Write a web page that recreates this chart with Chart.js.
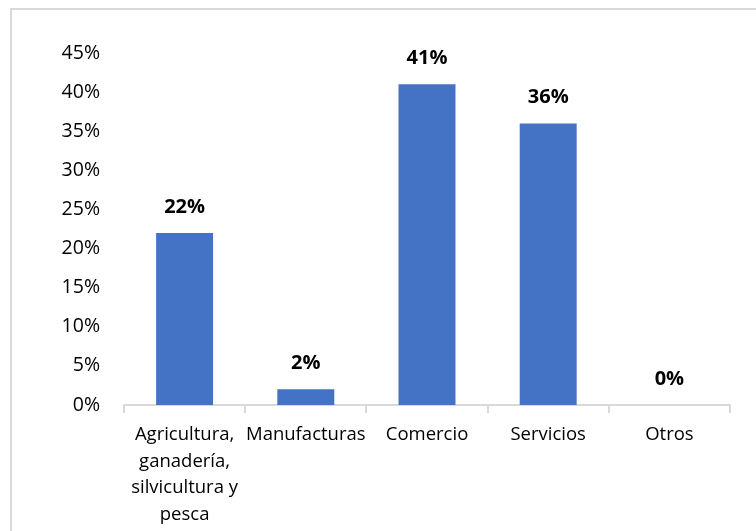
<!DOCTYPE html>
<html lang="es">
<head>
    <meta charset="UTF-8">
    <title>Distribución por sector</title>
    <style>
        html, body {
            margin: 0;
            padding: 0;
            background: #fff;
            overflow: hidden;
        }
        .frame {
            position: absolute;
            left: 10px;
            top: 8px;
            width: 800px;
            height: 600px;
            border: 2px solid #d9d9d9;
            box-sizing: border-box;
        }
        #sectorChart {
            position: absolute;
            left: 0;
            top: 0;
        }
    </style>
    <script src="https://cdn.jsdelivr.net/npm/chart.js"></script>
</head>
<body>
    <div class="frame"></div>
    <canvas id="sectorChart" width="756" height="531"></canvas>
    <script>
        // sectores (la primera etiqueta va en varias líneas)
        const sectores = [
            ['Agricultura,', 'ganadería,', 'silvicultura y', 'pesca'],
            'Manufacturas',
            'Comercio',
            'Servicios',
            'Otros'
        ];
        // porcentaje de cada sector
        const porcentajes = [22, 2, 41, 36, 0];
        // marcas del eje Y
        const marcasY = [0, 5, 10, 15, 20, 25, 30, 35, 40, 45];

        const fuente = "'Open Sans', sans-serif";

        // etiquetas en negrita sobre cada barra
        const etiquetasPlugin = {
            id: 'etiquetas',
            afterDatasetsDraw(chart) {
                const ctx = chart.ctx;
                const meta = chart.getDatasetMeta(0);
                ctx.save();
                ctx.font = 'bold 20px ' + fuente;
                ctx.fillStyle = '#000';
                ctx.textAlign = 'center';
                ctx.textBaseline = 'alphabetic';
                meta.data.forEach((bar, i) => {
                    ctx.fillText(porcentajes[i] + '%', bar.x, bar.y - 20);
                });
                ctx.restore();
            }
        };

        new Chart(document.getElementById('sectorChart'), {
            type: 'bar',
            data: {
                labels: sectores,
                datasets: [{
                    data: porcentajes,
                    backgroundColor: '#4472C4',
                    borderWidth: 0,
                    categoryPercentage: 0.47,
                    barPercentage: 1
                }]
            },
            options: {
                responsive: false,
                animation: false,
                layout: { padding: { top: 53, right: 26, bottom: 0, left: 0 } },
                plugins: {
                    legend: { display: false },
                    tooltip: { enabled: false }
                },
                scales: {
                    x: {
                        grid: {
                            display: true,
                            drawOnChartArea: false,
                            drawTicks: true,
                            tickLength: 8,
                            color: '#d9d9d9',
                            lineWidth: 2
                        },
                        border: { display: true, color: '#d9d9d9', width: 2 },
                        ticks: {
                            color: '#000',
                            padding: 9,
                            maxRotation: 0,
                            autoSkip: false,
                            font: { family: fuente, size: 18.5, lineHeight: 1.43 }
                        },
                        afterFit(scale) { scale.height = 126; }
                    },
                    y: {
                        min: 0,
                        max: 45,
                        afterBuildTicks(scale) {
                            scale.ticks = marcasY.map(v => ({ value: v }));
                        },
                        grid: { display: false },
                        border: { display: false },
                        ticks: {
                            color: '#000',
                            padding: 16,
                            font: { family: fuente, size: 19.5 },
                            callback: v => v + '%'
                        },
                        afterFit(scale) { scale.width = 124; }
                    }
                }
            },
            plugins: [etiquetasPlugin]
        });
    </script>
</body>
</html>
